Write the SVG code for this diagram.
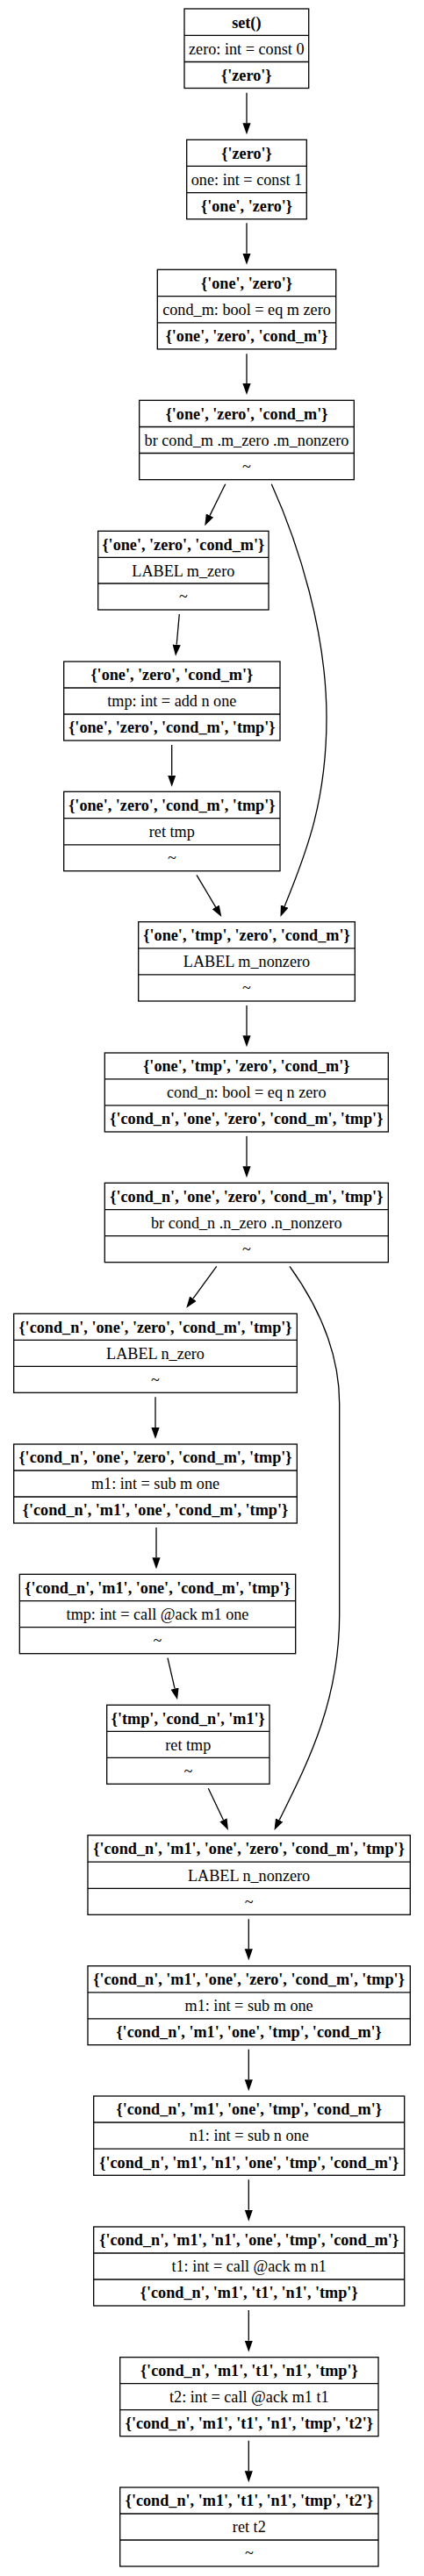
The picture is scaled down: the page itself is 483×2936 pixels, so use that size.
<svg xmlns="http://www.w3.org/2000/svg" width="483" height="2936" viewBox="0 0 483 2936">
<defs>
<style>
.box{fill:#fff;stroke:#000;stroke-width:1.3}
.sep{stroke:#000;stroke-width:1.3}
.t{font-family:"Liberation Serif","Times New Roman",serif;font-size:18.2px;text-anchor:middle;fill:#000}
.b{font-weight:bold}
.e{fill:none;stroke:#000;stroke-width:1.3}
</style>
<marker id="ah" markerUnits="userSpaceOnUse" viewBox="0 0 13 10" refX="0" refY="5" markerWidth="13" markerHeight="10" orient="auto">
<path d="M0,0.4 L13,5 L0,9.6 z" fill="#000"/>
</marker>
</defs>
<rect width="483" height="2936" fill="#fff"/>

<g id="edges">
<path class="e" marker-end="url(#ah)" d="M281,105.7 L281,140.3"/>
<path class="e" marker-end="url(#ah)" d="M281,254.3 L281,288.7"/>
<path class="e" marker-end="url(#ah)" d="M281,403.3 L281,437"/>
<path class="e" marker-end="url(#ah)" d="M256.7,551.7 L239,587.6"/>
<path class="e" marker-end="url(#ah)" d="M309.3,551.7 C340,620 372,720 372,818 C372,920 345,980 324.2,1033"/>
<path class="e" marker-end="url(#ah)" d="M204.3,700 L201.2,734.8"/>
<path class="e" marker-end="url(#ah)" d="M195.7,849 L195.7,883.7"/>
<path class="e" marker-end="url(#ah)" d="M224,997.3 L245.7,1033.8"/>
<path class="e" marker-end="url(#ah)" d="M281,1146 L281,1180.3"/>
<path class="e" marker-end="url(#ah)" d="M281,1295 L281,1329.3"/>
<path class="e" marker-end="url(#ah)" d="M246.7,1443.3 L219.9,1480.2"/>
<path class="e" marker-end="url(#ah)" d="M330,1443.3 C360,1485 386.7,1540 386.7,1600 L386.7,1840 C386.7,1940 350,2010 318.2,2074.4"/>
<path class="e" marker-end="url(#ah)" d="M177,1592.3 L177,1627"/>
<path class="e" marker-end="url(#ah)" d="M178,1741 L178,1775.3"/>
<path class="e" marker-end="url(#ah)" d="M191,1889.7 L199.1,1924.6"/>
<path class="e" marker-end="url(#ah)" d="M237.3,2038.3 L254.4,2074.3"/>
<path class="e" marker-end="url(#ah)" d="M283.3,2187.3 L283.3,2221.3"/>
<path class="e" marker-end="url(#ah)" d="M283.3,2335.7 L283.3,2370.3"/>
<path class="e" marker-end="url(#ah)" d="M283.3,2484.3 L283.3,2518.7"/>
<path class="e" marker-end="url(#ah)" d="M283.3,2633 L283.3,2667.7"/>
<path class="e" marker-end="url(#ah)" d="M283.3,2781.7 L283.3,2816.3"/>
</g>

<g id="n1">
<rect class="box" x="210" y="10" width="141.7" height="90.5"/>
<line class="sep" x1="210" y1="40.3" x2="351.7" y2="40.3"/>
<line class="sep" x1="210" y1="70.5" x2="351.7" y2="70.5"/>
<text class="t b" x="280.8" y="31.6">set()</text>
<text class="t" x="280.8" y="61.8">zero: int = const 0</text>
<text class="t b" x="280.8" y="92">{'zero'}</text>
</g>

<g id="n2">
<rect class="box" x="212.7" y="159.3" width="136.6" height="90.4"/>
<line class="sep" x1="212.7" y1="189.4" x2="349.3" y2="189.4"/>
<line class="sep" x1="212.7" y1="219.6" x2="349.3" y2="219.6"/>
<text class="t b" x="281" y="180.8">{'zero'}</text>
<text class="t" x="281" y="211">one: int = const 1</text>
<text class="t b" x="281" y="241.2">{'one', 'zero'}</text>
</g>

<g id="n3">
<rect class="box" x="179.3" y="307.3" width="203.4" height="90.6"/>
<line class="sep" x1="179.3" y1="337.6" x2="382.7" y2="337.6"/>
<line class="sep" x1="179.3" y1="367.8" x2="382.7" y2="367.8"/>
<text class="t b" x="281" y="328.8">{'one', 'zero'}</text>
<text class="t" x="281" y="359">cond_m: bool = eq m zero</text>
<text class="t b" x="281" y="389.2">{'one', 'zero', 'cond_m'}</text>
</g>

<g id="n4">
<rect class="box" x="158.7" y="456.3" width="244.6" height="90.4"/>
<line class="sep" x1="158.7" y1="486.5" x2="403.3" y2="486.5"/>
<line class="sep" x1="158.7" y1="516.5" x2="403.3" y2="516.5"/>
<text class="t b" x="281" y="477.8">{'one', 'zero', 'cond_m'}</text>
<text class="t" x="281" y="508">br cond_m .m_zero .m_nonzero</text>
<text class="t" x="281" y="538.2">~</text>
</g>

<g id="n5">
<rect class="box" x="111.7" y="605.3" width="194.3" height="89.7"/>
<line class="sep" x1="111.7" y1="635.3" x2="306" y2="635.3"/>
<line class="sep" x1="111.7" y1="665" x2="306" y2="665"/>
<text class="t b" x="208.8" y="626.6">{'one', 'zero', 'cond_m'}</text>
<text class="t" x="208.8" y="656.5">LABEL m_zero</text>
<text class="t" x="208.8" y="686.4">~</text>
</g>

<g id="n6">
<rect class="box" x="72.7" y="754" width="246.3" height="90"/>
<line class="sep" x1="72.7" y1="784" x2="319" y2="784"/>
<line class="sep" x1="72.7" y1="814" x2="319" y2="814"/>
<text class="t b" x="195.8" y="775.3">{'one', 'zero', 'cond_m'}</text>
<text class="t" x="195.8" y="805.3">tmp: int = add n one</text>
<text class="t b" x="195.8" y="835.3">{'one', 'zero', 'cond_m', 'tmp'}</text>
</g>

<g id="n7">
<rect class="box" x="72.7" y="902.3" width="246.3" height="90.4"/>
<line class="sep" x1="72.7" y1="932.6" x2="319" y2="932.6"/>
<line class="sep" x1="72.7" y1="962.8" x2="319" y2="962.8"/>
<text class="t b" x="195.8" y="923.8">{'one', 'zero', 'cond_m', 'tmp'}</text>
<text class="t" x="195.8" y="954">ret tmp</text>
<text class="t" x="195.8" y="984.2">~</text>
</g>

<g id="n8">
<rect class="box" x="157.7" y="1050.7" width="246.6" height="90.3"/>
<line class="sep" x1="157.7" y1="1080.8" x2="404.3" y2="1080.8"/>
<line class="sep" x1="157.7" y1="1110.9" x2="404.3" y2="1110.9"/>
<text class="t b" x="281" y="1072.1">{'one', 'tmp', 'zero', 'cond_m'}</text>
<text class="t" x="281" y="1102.2">LABEL m_nonzero</text>
<text class="t" x="281" y="1132.3">~</text>
</g>

<g id="n9">
<rect class="box" x="119.3" y="1200" width="323" height="90"/>
<line class="sep" x1="119.3" y1="1229.9" x2="442.3" y2="1229.9"/>
<line class="sep" x1="119.3" y1="1259.8" x2="442.3" y2="1259.8"/>
<text class="t b" x="280.8" y="1221.3">{'one', 'tmp', 'zero', 'cond_m'}</text>
<text class="t" x="280.8" y="1251.2">cond_n: bool = eq n zero</text>
<text class="t b" x="280.8" y="1281.2">{'cond_n', 'one', 'zero', 'cond_m', 'tmp'}</text>
</g>

<g id="n10">
<rect class="box" x="119.3" y="1348.3" width="323" height="90.4"/>
<line class="sep" x1="119.3" y1="1378.6" x2="442.3" y2="1378.6"/>
<line class="sep" x1="119.3" y1="1408.7" x2="442.3" y2="1408.7"/>
<text class="t b" x="280.8" y="1369.8">{'cond_n', 'one', 'zero', 'cond_m', 'tmp'}</text>
<text class="t" x="280.8" y="1400">br cond_n .n_zero .n_nonzero</text>
<text class="t" x="280.8" y="1430">~</text>
</g>

<g id="n11">
<rect class="box" x="15.7" y="1497.3" width="322.6" height="90"/>
<line class="sep" x1="15.7" y1="1527.3" x2="338.3" y2="1527.3"/>
<line class="sep" x1="15.7" y1="1557.3" x2="338.3" y2="1557.3"/>
<text class="t b" x="177" y="1518.6">{'cond_n', 'one', 'zero', 'cond_m', 'tmp'}</text>
<text class="t" x="177" y="1548.6">LABEL n_zero</text>
<text class="t" x="177" y="1578.6">~</text>
</g>

<g id="n12">
<rect class="box" x="15.7" y="1646" width="322.6" height="90"/>
<line class="sep" x1="15.7" y1="1676" x2="338.3" y2="1676"/>
<line class="sep" x1="15.7" y1="1706" x2="338.3" y2="1706"/>
<text class="t b" x="177" y="1667.3">{'cond_n', 'one', 'zero', 'cond_m', 'tmp'}</text>
<text class="t" x="177" y="1697.3">m1: int = sub m one</text>
<text class="t b" x="177" y="1727.3">{'cond_n', 'm1', 'one', 'cond_m', 'tmp'}</text>
</g>

<g id="n13">
<rect class="box" x="22.3" y="1794.3" width="314.4" height="90.4"/>
<line class="sep" x1="22.3" y1="1824.6" x2="336.7" y2="1824.6"/>
<line class="sep" x1="22.3" y1="1854.7" x2="336.7" y2="1854.7"/>
<text class="t b" x="179.5" y="1815.8">{'cond_n', 'm1', 'one', 'cond_m', 'tmp'}</text>
<text class="t" x="179.5" y="1846">tmp: int = call @ack m1 one</text>
<text class="t" x="179.5" y="1876">~</text>
</g>

<g id="n14">
<rect class="box" x="121.7" y="1943.3" width="185.3" height="90"/>
<line class="sep" x1="121.7" y1="1973.3" x2="307" y2="1973.3"/>
<line class="sep" x1="121.7" y1="2003.3" x2="307" y2="2003.3"/>
<text class="t b" x="214.3" y="1964.6">{'tmp', 'cond_n', 'm1'}</text>
<text class="t" x="214.3" y="1994.6">ret tmp</text>
<text class="t" x="214.3" y="2024.6">~</text>
</g>

<g id="n15">
<rect class="box" x="100" y="2091.7" width="367.3" height="90.6"/>
<line class="sep" x1="100" y1="2122.1" x2="467.3" y2="2122.1"/>
<line class="sep" x1="100" y1="2152.3" x2="467.3" y2="2152.3"/>
<text class="t b" x="283.6" y="2113.3">{'cond_n', 'm1', 'one', 'zero', 'cond_m', 'tmp'}</text>
<text class="t" x="283.6" y="2143.5">LABEL n_nonzero</text>
<text class="t" x="283.6" y="2173.6">~</text>
</g>

<g id="n16">
<rect class="box" x="100" y="2240.7" width="367.3" height="90"/>
<line class="sep" x1="100" y1="2270.8" x2="467.3" y2="2270.8"/>
<line class="sep" x1="100" y1="2300.8" x2="467.3" y2="2300.8"/>
<text class="t b" x="283.6" y="2262">{'cond_n', 'm1', 'one', 'zero', 'cond_m', 'tmp'}</text>
<text class="t" x="283.6" y="2292">m1: int = sub m one</text>
<text class="t b" x="283.6" y="2322">{'cond_n', 'm1', 'one', 'tmp', 'cond_m'}</text>
</g>

<g id="n17">
<rect class="box" x="106.7" y="2389" width="354" height="90.3"/>
<line class="sep" x1="106.7" y1="2419" x2="460.7" y2="2419"/>
<line class="sep" x1="106.7" y1="2449.2" x2="460.7" y2="2449.2"/>
<text class="t b" x="283.7" y="2410.3">{'cond_n', 'm1', 'one', 'tmp', 'cond_m'}</text>
<text class="t" x="283.7" y="2440.4">n1: int = sub n one</text>
<text class="t b" x="283.7" y="2470.6">{'cond_n', 'm1', 'n1', 'one', 'tmp', 'cond_m'}</text>
</g>

<g id="n18">
<rect class="box" x="106.7" y="2538" width="354" height="90"/>
<line class="sep" x1="106.7" y1="2568" x2="460.7" y2="2568"/>
<line class="sep" x1="106.7" y1="2598" x2="460.7" y2="2598"/>
<text class="t b" x="283.7" y="2559.3">{'cond_n', 'm1', 'n1', 'one', 'tmp', 'cond_m'}</text>
<text class="t" x="283.7" y="2589.3">t1: int = call @ack m n1</text>
<text class="t b" x="283.7" y="2619.3">{'cond_n', 'm1', 't1', 'n1', 'tmp'}</text>
</g>

<g id="n19">
<rect class="box" x="136.7" y="2686.7" width="294.3" height="90"/>
<line class="sep" x1="136.7" y1="2716.7" x2="431" y2="2716.7"/>
<line class="sep" x1="136.7" y1="2746.7" x2="431" y2="2746.7"/>
<text class="t b" x="283.8" y="2708">{'cond_n', 'm1', 't1', 'n1', 'tmp'}</text>
<text class="t" x="283.8" y="2738">t2: int = call @ack m1 t1</text>
<text class="t b" x="283.8" y="2768">{'cond_n', 'm1', 't1', 'n1', 'tmp', 't2'}</text>
</g>

<g id="n20">
<rect class="box" x="136.7" y="2835" width="294.3" height="90"/>
<line class="sep" x1="136.7" y1="2865" x2="431" y2="2865"/>
<line class="sep" x1="136.7" y1="2895" x2="431" y2="2895"/>
<text class="t b" x="283.8" y="2856.3">{'cond_n', 'm1', 't1', 'n1', 'tmp', 't2'}</text>
<text class="t" x="283.8" y="2886.3">ret t2</text>
<text class="t" x="283.8" y="2916.3">~</text>
</g>
</svg>
